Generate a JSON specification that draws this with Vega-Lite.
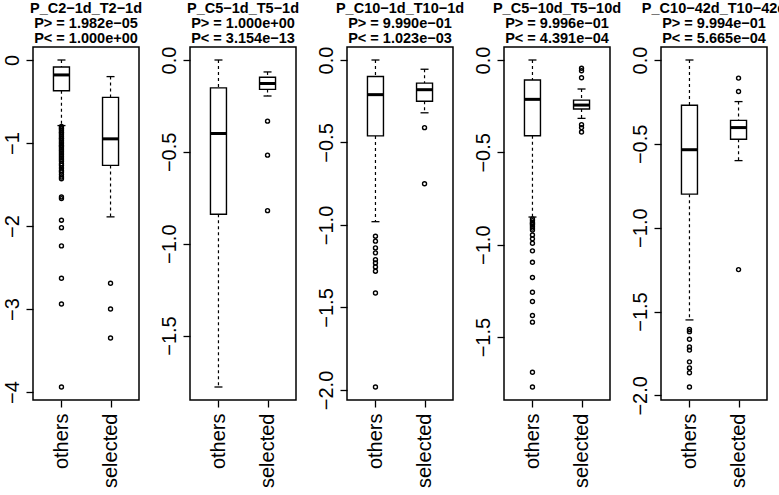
{
  "$schema": "https://vega.github.io/schema/vega-lite/v6.json",
  "background": "white",
  "padding": {"left": 1, "top": 0, "right": 0, "bottom": 0},
  "datasets": {
    "panels": [
      {"p": 1, "title": "P_C2−1d_T2−1d|P> = 1.982e−05|P< = 1.000e+00"},
      {"p": 2, "title": "P_C5−1d_T5−1d|P> = 1.000e+00|P< = 3.154e−13"},
      {"p": 3, "title": "P_C10−1d_T10−1d|P> = 9.990e−01|P< = 1.023e−03"},
      {"p": 4, "title": "P_C5−10d_T5−10d|P> = 9.996e−01|P< = 4.391e−04"},
      {"p": 5, "title": "P_C10−42d_T10−42d|P> = 9.994e−01|P< = 5.665e−04"}
    ],
    "rows": [
      {"p": 1, "g": "others", "lo": -0.79, "q1": -0.37, "md": -0.18, "q3": -0.085, "hi": 0},
      {"p": 1, "g": "selected", "lo": -1.89, "q1": -1.27, "md": -0.95, "q3": -0.45, "hi": -0.2},
      {"p": 1, "g": "others", "v": -0.80}, {"p": 1, "g": "others", "v": -0.82}, {"p": 1, "g": "others", "v": -0.83},
      {"p": 1, "g": "others", "v": -0.85}, {"p": 1, "g": "others", "v": -0.87}, {"p": 1, "g": "others", "v": -0.88},
      {"p": 1, "g": "others", "v": -0.90}, {"p": 1, "g": "others", "v": -0.92}, {"p": 1, "g": "others", "v": -0.94},
      {"p": 1, "g": "others", "v": -0.95}, {"p": 1, "g": "others", "v": -0.97}, {"p": 1, "g": "others", "v": -0.99},
      {"p": 1, "g": "others", "v": -1.01}, {"p": 1, "g": "others", "v": -1.03}, {"p": 1, "g": "others", "v": -1.04},
      {"p": 1, "g": "others", "v": -1.06}, {"p": 1, "g": "others", "v": -1.08}, {"p": 1, "g": "others", "v": -1.10},
      {"p": 1, "g": "others", "v": -1.12}, {"p": 1, "g": "others", "v": -1.14}, {"p": 1, "g": "others", "v": -1.16},
      {"p": 1, "g": "others", "v": -1.18}, {"p": 1, "g": "others", "v": -1.20}, {"p": 1, "g": "others", "v": -1.22},
      {"p": 1, "g": "others", "v": -1.25}, {"p": 1, "g": "others", "v": -1.27}, {"p": 1, "g": "others", "v": -1.30},
      {"p": 1, "g": "others", "v": -1.33}, {"p": 1, "g": "others", "v": -1.35}, {"p": 1, "g": "others", "v": -1.38},
      {"p": 1, "g": "others", "v": -1.41}, {"p": 1, "g": "others", "v": -1.43}, {"p": 1, "g": "others", "v": -1.65},
      {"p": 1, "g": "others", "v": -1.67}, {"p": 1, "g": "others", "v": -1.93}, {"p": 1, "g": "others", "v": -2.02},
      {"p": 1, "g": "others", "v": -2.24}, {"p": 1, "g": "others", "v": -2.63}, {"p": 1, "g": "others", "v": -2.94},
      {"p": 1, "g": "others", "v": -3.94},
      {"p": 1, "g": "selected", "v": -2.69}, {"p": 1, "g": "selected", "v": -3.0}, {"p": 1, "g": "selected", "v": -3.35},

      {"p": 2, "g": "others", "lo": -1.78, "q1": -0.84, "md": -0.40, "q3": -0.152, "hi": 0},
      {"p": 2, "g": "selected", "lo": -0.196, "q1": -0.16, "md": -0.128, "q3": -0.094, "hi": -0.065},
      {"p": 2, "g": "selected", "v": -0.333}, {"p": 2, "g": "selected", "v": -0.518}, {"p": 2, "g": "selected", "v": -0.82},

      {"p": 3, "g": "others", "lo": -0.98, "q1": -0.46, "md": -0.21, "q3": -0.10, "hi": 0},
      {"p": 3, "g": "selected", "lo": -0.32, "q1": -0.25, "md": -0.18, "q3": -0.14, "hi": -0.056},
      {"p": 3, "g": "others", "v": -1.068}, {"p": 3, "g": "others", "v": -1.098}, {"p": 3, "g": "others", "v": -1.139},
      {"p": 3, "g": "others", "v": -1.169}, {"p": 3, "g": "others", "v": -1.21}, {"p": 3, "g": "others", "v": -1.23},
      {"p": 3, "g": "others", "v": -1.254}, {"p": 3, "g": "others", "v": -1.28}, {"p": 3, "g": "others", "v": -1.412},
      {"p": 3, "g": "others", "v": -1.982},
      {"p": 3, "g": "selected", "v": -0.41}, {"p": 3, "g": "selected", "v": -0.75},

      {"p": 4, "g": "others", "lo": -0.85, "q1": -0.41, "md": -0.213, "q3": -0.108, "hi": 0},
      {"p": 4, "g": "selected", "lo": -0.316, "q1": -0.265, "md": -0.244, "q3": -0.217, "hi": -0.157},
      {"p": 4, "g": "others", "v": -0.86}, {"p": 4, "g": "others", "v": -0.87}, {"p": 4, "g": "others", "v": -0.88},
      {"p": 4, "g": "others", "v": -0.885}, {"p": 4, "g": "others", "v": -0.89}, {"p": 4, "g": "others", "v": -0.90},
      {"p": 4, "g": "others", "v": -0.91}, {"p": 4, "g": "others", "v": -0.92}, {"p": 4, "g": "others", "v": -0.947},
      {"p": 4, "g": "others", "v": -0.968}, {"p": 4, "g": "others", "v": -0.992}, {"p": 4, "g": "others", "v": -1.033},
      {"p": 4, "g": "others", "v": -1.095}, {"p": 4, "g": "others", "v": -1.177}, {"p": 4, "g": "others", "v": -1.257},
      {"p": 4, "g": "others", "v": -1.307}, {"p": 4, "g": "others", "v": -1.383}, {"p": 4, "g": "others", "v": -1.419},
      {"p": 4, "g": "others", "v": -1.69}, {"p": 4, "g": "others", "v": -1.77},
      {"p": 4, "g": "selected", "v": -0.045}, {"p": 4, "g": "selected", "v": -0.058}, {"p": 4, "g": "selected", "v": -0.096},
      {"p": 4, "g": "selected", "v": -0.35}, {"p": 4, "g": "selected", "v": -0.366}, {"p": 4, "g": "selected", "v": -0.39},

      {"p": 5, "g": "others", "lo": -1.55, "q1": -0.80, "md": -0.535, "q3": -0.27, "hi": 0},
      {"p": 5, "g": "selected", "lo": -0.60, "q1": -0.473, "md": -0.403, "q3": -0.36, "hi": -0.248},
      {"p": 5, "g": "others", "v": -1.607}, {"p": 5, "g": "others", "v": -1.62}, {"p": 5, "g": "others", "v": -1.665},
      {"p": 5, "g": "others", "v": -1.711}, {"p": 5, "g": "others", "v": -1.73}, {"p": 5, "g": "others", "v": -1.80},
      {"p": 5, "g": "others", "v": -1.836}, {"p": 5, "g": "others", "v": -1.865}, {"p": 5, "g": "others", "v": -1.95},
      {"p": 5, "g": "selected", "v": -0.108}, {"p": 5, "g": "selected", "v": -0.188}, {"p": 5, "g": "selected", "v": -1.25}
    ]
  },
  "data": {"name": "rows"},
  "transform": [
    {"lookup": "p", "from": {"data": {"name": "panels"}, "key": "p", "fields": ["title"]}}
  ],
  "facet": {
    "column": {
      "field": "title", "type": "nominal",
      "sort": {"field": "p", "op": "min"},
      "header": {"title": null, "labelExpr": "split(datum.value, '|')"}
    }
  },
  "spacing": 51,
  "bounds": "flush",
  "resolve": {"scale": {"y": "independent"}},
  "spec": {
    "width": 106,
    "height": 353,
    "encoding": {
      "x": {"field": "g", "type": "nominal", "title": null, "scale": {"type": "point", "padding": 0.58}}
    },
    "layer": [
      {
        "mark": {"type": "rule", "strokeDash": [3, 3], "color": "black", "strokeWidth": 1.2},
        "encoding": {
          "y": {"field": "hi", "type": "quantitative", "title": null,
                "scale": {"zero": false, "nice": false, "padding": 13},
                "axis": {"tickCount": 5}},
          "y2": {"field": "q3"}
        }
      },
      {
        "mark": {"type": "rule", "strokeDash": [3, 3], "color": "black", "strokeWidth": 1.2},
        "encoding": {
          "y": {"field": "q1", "type": "quantitative", "title": null},
          "y2": {"field": "lo"}
        }
      },
      {
        "mark": {"type": "bar", "width": 16, "fill": "white", "stroke": "black", "strokeWidth": 1.4},
        "encoding": {
          "y": {"field": "q3", "type": "quantitative", "title": null},
          "y2": {"field": "q1"}
        }
      },
      {
        "mark": {"type": "tick", "size": 16, "thickness": 3, "color": "black", "opacity": 1},
        "encoding": {"y": {"field": "md", "type": "quantitative", "title": null}}
      },
      {
        "mark": {"type": "tick", "size": 8, "thickness": 1.3, "color": "black", "opacity": 1},
        "encoding": {"y": {"field": "hi", "type": "quantitative", "title": null}}
      },
      {
        "mark": {"type": "tick", "size": 8, "thickness": 1.3, "color": "black", "opacity": 1},
        "encoding": {"y": {"field": "lo", "type": "quantitative", "title": null}}
      },
      {
        "mark": {"type": "point", "shape": "circle", "filled": false, "size": 16, "stroke": "black", "strokeWidth": 1.4, "opacity": 1},
        "encoding": {"y": {"field": "v", "type": "quantitative", "title": null}}
      }
    ]
  },
  "config": {
    "font": "Liberation Sans",
    "view": {"stroke": "black", "strokeWidth": 1.5},
    "mark": {"invalid": "filter"},
    "axis": {
      "grid": false, "domain": false, "tickColor": "black", "tickSize": 7, "tickWidth": 1.3,
      "labelColor": "black", "labelFont": "Liberation Sans", "labelFontSize": 20,
      "labelAngle": -90, "labelOverlap": false, "labelFlush": false
    },
    "axisX": {"labelAlign": "right", "labelBaseline": "middle", "labelPadding": 6},
    "axisY": {"labelAlign": "center", "labelBaseline": "bottom", "labelPadding": 4},
    "header": {
      "labelFont": "Liberation Sans", "labelFontSize": 14.5, "labelFontWeight": "bold",
      "labelColor": "black", "labelLineHeight": 15, "labelPadding": 1, "labelLimit": 0
    }
  }
}
